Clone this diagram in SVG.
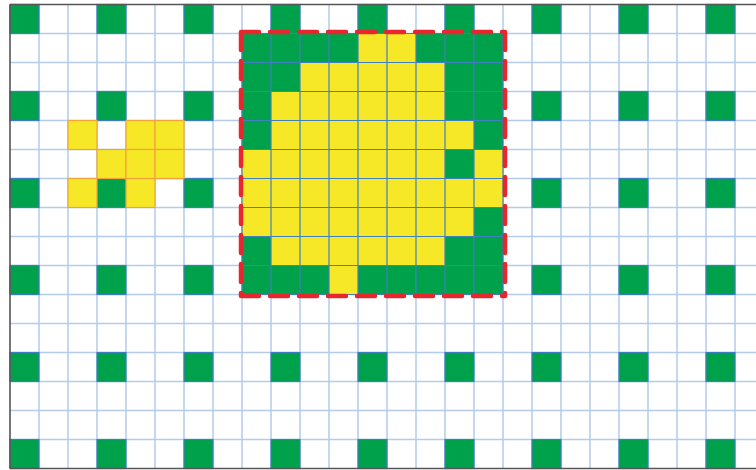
<svg xmlns="http://www.w3.org/2000/svg" width="756" height="470" viewBox="0 0 756 470">
<style>
.grid{stroke:#b4cce8;stroke-width:1.5;fill:none}
.g{fill:#00a14b;stroke:#3b7fc2;stroke-width:1.2}
.y{fill:#f7e827;stroke:#f2a33a;stroke-width:1.2}
.rg{fill:#00a14b}
.rgrid{stroke:#3f80bf;stroke-width:1.2;fill:none}
.border{stroke:#555;stroke-width:1.6;fill:none}
.sel{stroke:#e8262d;stroke-width:4.5;fill:none;stroke-dasharray:18 11;stroke-linecap:round}
</style>
<rect x="0" y="0" width="756" height="470" fill="#fff"/>
<g id="grid-lines">
<path class="grid" d="M39,4.5V468.5M68,4.5V468.5M97,4.5V468.5M126,4.5V468.5M155,4.5V468.5M184,4.5V468.5M213,4.5V468.5M242,4.5V468.5M271,4.5V468.5M300,4.5V468.5M329,4.5V468.5M358,4.5V468.5M387,4.5V468.5M416,4.5V468.5M445,4.5V468.5M474,4.5V468.5M503,4.5V468.5M532,4.5V468.5M561,4.5V468.5M590,4.5V468.5M619,4.5V468.5M648,4.5V468.5M677,4.5V468.5M706,4.5V468.5M735,4.5V468.5"/>
<path class="grid" d="M10,33.5H756M10,62.5H756M10,91.5H756M10,120.5H756M10,149.5H756M10,178.5H756M10,207.5H756M10,236.5H756M10,265.5H756M10,294.5H756M10,323.5H756M10,352.5H756M10,381.5H756M10,410.5H756M10,439.5H756"/>
</g>
<g id="green-cells">
<rect class="g" x="10" y="4.5" width="29" height="29"/><rect class="g" x="97" y="4.5" width="29" height="29"/><rect class="g" x="184" y="4.5" width="29" height="29"/><rect class="g" x="271" y="4.5" width="29" height="29"/><rect class="g" x="358" y="4.5" width="29" height="29"/><rect class="g" x="445" y="4.5" width="29" height="29"/><rect class="g" x="532" y="4.5" width="29" height="29"/><rect class="g" x="619" y="4.5" width="29" height="29"/><rect class="g" x="706" y="4.5" width="29" height="29"/>
<rect class="g" x="10" y="91.5" width="29" height="29"/><rect class="g" x="97" y="91.5" width="29" height="29"/><rect class="g" x="184" y="91.5" width="29" height="29"/><rect class="g" x="532" y="91.5" width="29" height="29"/><rect class="g" x="619" y="91.5" width="29" height="29"/><rect class="g" x="706" y="91.5" width="29" height="29"/>
<rect class="g" x="10" y="178.5" width="29" height="29"/><rect class="g" x="97" y="178.5" width="29" height="29"/><rect class="g" x="184" y="178.5" width="29" height="29"/><rect class="g" x="532" y="178.5" width="29" height="29"/><rect class="g" x="619" y="178.5" width="29" height="29"/><rect class="g" x="706" y="178.5" width="29" height="29"/>
<rect class="g" x="10" y="265.5" width="29" height="29"/><rect class="g" x="97" y="265.5" width="29" height="29"/><rect class="g" x="184" y="265.5" width="29" height="29"/><rect class="g" x="532" y="265.5" width="29" height="29"/><rect class="g" x="619" y="265.5" width="29" height="29"/><rect class="g" x="706" y="265.5" width="29" height="29"/>
<rect class="g" x="10" y="352.5" width="29" height="29"/><rect class="g" x="97" y="352.5" width="29" height="29"/><rect class="g" x="184" y="352.5" width="29" height="29"/><rect class="g" x="271" y="352.5" width="29" height="29"/><rect class="g" x="358" y="352.5" width="29" height="29"/><rect class="g" x="445" y="352.5" width="29" height="29"/><rect class="g" x="532" y="352.5" width="29" height="29"/><rect class="g" x="619" y="352.5" width="29" height="29"/><rect class="g" x="706" y="352.5" width="29" height="29"/>
<rect class="g" x="10" y="439.5" width="29" height="29"/><rect class="g" x="97" y="439.5" width="29" height="29"/><rect class="g" x="184" y="439.5" width="29" height="29"/><rect class="g" x="271" y="439.5" width="29" height="29"/><rect class="g" x="358" y="439.5" width="29" height="29"/><rect class="g" x="445" y="439.5" width="29" height="29"/><rect class="g" x="532" y="439.5" width="29" height="29"/><rect class="g" x="619" y="439.5" width="29" height="29"/><rect class="g" x="706" y="439.5" width="29" height="29"/>
</g>
<g id="left-yellow">
<rect class="y" x="68" y="120.5" width="29" height="29"/><rect class="y" x="126" y="120.5" width="29" height="29"/><rect class="y" x="155" y="120.5" width="29" height="29"/>
<rect class="y" x="97" y="149.5" width="29" height="29"/><rect class="y" x="126" y="149.5" width="29" height="29"/><rect class="y" x="155" y="149.5" width="29" height="29"/>
<rect class="y" x="68" y="178.5" width="29" height="29"/><rect class="y" x="126" y="178.5" width="29" height="29"/>
</g>
<g id="region">
<rect x="242" y="33.5" width="261" height="261" fill="#f7e827"/>
<rect class="rg" x="242" y="33.5" width="116" height="29"/><rect class="rg" x="416" y="33.5" width="87" height="29"/>
<rect class="rg" x="242" y="62.5" width="58" height="29"/><rect class="rg" x="445" y="62.5" width="58" height="29"/>
<rect class="rg" x="242" y="91.5" width="29" height="29"/><rect class="rg" x="445" y="91.5" width="58" height="29"/>
<rect class="rg" x="242" y="120.5" width="29" height="29"/><rect class="rg" x="474" y="120.5" width="29" height="29"/>
<rect class="rg" x="445" y="149.5" width="29" height="29"/>
<rect class="rg" x="474" y="207.5" width="29" height="29"/>
<rect class="rg" x="242" y="236.5" width="29" height="29"/><rect class="rg" x="445" y="236.5" width="58" height="29"/>
<rect class="rg" x="242" y="265.5" width="87" height="29"/><rect class="rg" x="358" y="265.5" width="145" height="29"/>
<path class="rgrid" d="M242,33.5V294.5M271,33.5V294.5M300,33.5V294.5M329,33.5V294.5M358,33.5V294.5M387,33.5V294.5M416,33.5V294.5M445,33.5V294.5M474,33.5V294.5M503,33.5V294.5M242,33.5H503M242,62.5H503M242,91.5H503M242,120.5H503M242,149.5H503M242,178.5H503M242,207.5H503M242,236.5H503M242,265.5H503M242,294.5H503"/>
</g>
<g id="frame">
<path class="border" d="M10,4.5H756M10,4.5V468.5M10,468.5H756"/>
</g>
<g id="selection">
<path class="sel" d="M241,32H505M241,32V296M505,32V296M241,296H505"/>
</g>
</svg>
